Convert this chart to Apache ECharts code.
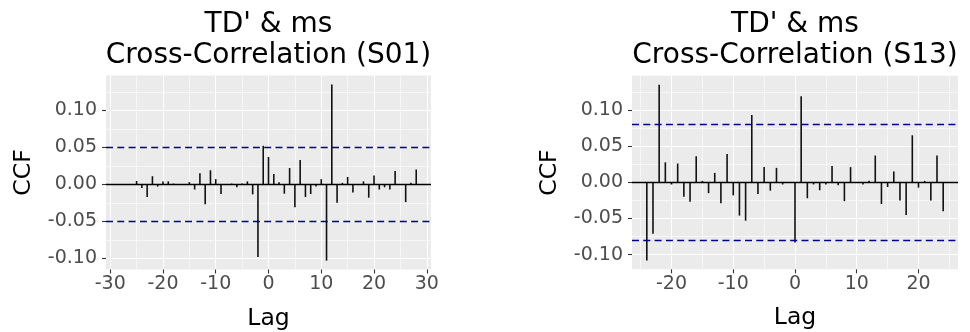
<!DOCTYPE html>
<html>
<head>
<meta charset="utf-8">
<script src="https://cdn.jsdelivr.net/npm/echarts@6.0.0/dist/echarts.min.js"></script>
<style>
  html, body { margin: 0; padding: 0; background: #fff; }
  #chart { width: 970px; height: 332px; }
</style>
</head>
<body>
<div id="chart"></div>
<script>
// CCF values, one per lag
var lagsS01 = [-28, -27, -26, -25, -24, -23, -22, -21, -20, -19, -18, -17, -16, -15, -14, -13, -12, -11, -10, -9, -8, -7, -6, -5, -4, -3, -2, -1,
    0, 1, 2, 3, 4, 5, 6, 7, 8, 9, 10, 11, 12, 13, 14, 15, 16, 17, 18, 19, 20, 21, 22, 23, 24, 25, 26, 27, 28];
var ccfS01 = [0, 0, 0, 0.0045, -0.005, -0.017, 0.011, -0.003, 0.004, 0.004, 0.001, 0, -0.001, 0.003, -0.007, 0.015, -0.027, 0.019, 0.007, -0.013,
    0, 0.001, -0.004, 0.001, 0.004, -0.0135, -0.098, 0.052,
    0.037, 0.014, 0.003, -0.0126, 0.022, -0.031, 0.033, -0.017, -0.013, -0.003, 0.007, -0.103, 0.135, -0.025, 0.002, 0.010,
    -0.011, 0, 0.004, -0.018, 0.012, -0.007, -0.004, -0.007, 0.018, 0, -0.024, 0.002, 0.020];
var ciS01 = 0.0504;

var lagsS13 = [-24, -23, -22, -21, -20, -19, -18, -17, -16, -15, -14, -13, -12, -11, -10, -9, -8, -7, -6, -5, -4, -3, -2, -1,
    0, 1, 2, 3, 4, 5, 6, 7, 8, 9, 10, 11, 12, 13, 14, 15, 16, 17, 18, 19, 20, 21, 22, 23, 24];
var ccfS13 = [-0.108, -0.071, 0.135, 0.0276, -0.003, 0.026, -0.020, -0.027, 0.036, 0.002, -0.015, 0.013, -0.029, 0.039, -0.018, -0.046,
    -0.053, 0.093, -0.016, 0.021, -0.0115, 0.020, -0.003, 0,
    -0.083, 0.119, -0.022, -0.003, -0.011, -0.003, 0.0226, -0.004, -0.026, 0.021, 0, -0.003, 0.002, 0.037, -0.030, -0.0065,
    0.015, -0.025, -0.045, 0.065, -0.0074, 0.002, -0.025, 0.037, -0.040];
var ciS13 = 0.0843;

// tick labels and grid breaks
var xTicksS01 = [-30, -20, -10, 0, 10, 20, 30];
var xMinorS01 = [-25, -15, -5, 5, 15, 25];
var xTicksS13 = [-20, -10, 0, 10, 20];
var xMinorS13 = [-25, -15, -5, 5, 15, 25];
var yTicks = [-0.10, -0.05, 0, 0.05, 0.10];
var yMinor = [-0.075, -0.025, 0.025, 0.075, 0.125];

var FONT = 'DejaVu Sans';
var grids = [], xAxes = [], yAxes = [], series = [], titles = [];

function zip(a, b) {
    var out = [];
    for (var i = 0; i < a.length; i++) out.push([a[i], b[i]]);
    return out;
}

function panel(i, box, title, lags, ccf, ci, xTicks, xMinor, xRange, yRange) {
    // fixed pixel box, don't let echarts squeeze it to fit the axis names
    grids.push({left: box[0], top: box[1], width: box[2], height: box[3], show: true,
        outerBoundsMode: 'none', containLabel: false,
        backgroundColor: '#EBEBEB', borderWidth: 0});
    titles.push({
        text: title, left: box[0] + box[2] / 2, top: 9, textAlign: 'center', padding: 0,
        textStyle: {fontFamily: FONT, fontSize: 28, fontWeight: 'normal', color: '#000', lineHeight: 31}
    });
    // major axis with labels
    xAxes.push({
        gridIndex: i, type: 'value', position: 'bottom', min: xRange[0], max: xRange[1],
        name: 'Lag', nameLocation: 'middle', nameGap: 37,
        nameTextStyle: {fontFamily: FONT, fontSize: 23.5, color: '#000'},
        axisLine: {show: false, onZero: false},
        axisTick: {show: true, length: 4, lineStyle: {color: '#333', width: 1.1}, customValues: xTicks},
        axisLabel: {customValues: xTicks, margin: 5, fontFamily: FONT, fontSize: 19, color: '#4D4D4D'},
        splitLine: {show: true, lineStyle: {color: '#fff', width: 1.1}}
    });
    // minor grid only
    xAxes.push({
        gridIndex: i, type: 'value', position: 'bottom', min: xRange[0], max: xRange[1],
        axisLine: {show: false, onZero: false}, axisLabel: {show: false},
        axisTick: {show: false, customValues: xMinor},
        splitLine: {show: true, lineStyle: {color: '#fff', width: 0.55}}
    });
    yAxes.push({
        gridIndex: i, type: 'value', position: 'left', min: yRange[0], max: yRange[1],
        name: 'CCF', nameLocation: 'middle', nameGap: 70, nameRotate: 90,
        nameTextStyle: {fontFamily: FONT, fontSize: 23.5, color: '#000'},
        axisLine: {show: false, onZero: false},
        axisTick: {show: true, length: 4, lineStyle: {color: '#333', width: 1.1}, customValues: yTicks},
        axisLabel: {customValues: yTicks, margin: 9, fontFamily: FONT, fontSize: 19, color: '#4D4D4D',
            formatter: function (v) { return v.toFixed(2); }},
        splitLine: {show: true, lineStyle: {color: '#fff', width: 1.1}}
    });
    yAxes.push({
        gridIndex: i, type: 'value', position: 'left', min: yRange[0], max: yRange[1],
        axisLine: {show: false, onZero: false}, axisLabel: {show: false},
        axisTick: {show: false, customValues: yMinor},
        splitLine: {show: true, lineStyle: {color: '#fff', width: 0.55}}
    });
    series.push({
        type: 'bar', xAxisIndex: 2 * i, yAxisIndex: 2 * i,
        data: zip(lags, ccf), barWidth: 1.6,
        itemStyle: {color: '#111'},
        silent: true,
        markLine: {
            silent: true, symbol: 'none', label: {show: false},
            data: [
                {yAxis: 0, lineStyle: {color: '#000', width: 1.3, type: 'solid'}},
                {yAxis: ci, lineStyle: {color: '#00008B', width: 1.3, type: [7, 4.3]}},
                {yAxis: -ci, lineStyle: {color: '#00008B', width: 1.3, type: [7, 4.3]}}
            ]
        }
    });
}

panel(0, [106, 75.5, 325, 194], "TD' & ms\nCross-Correlation (S01)", lagsS01, ccfS01, ciS01,
    xTicksS01, xMinorS01, [-30.8, 30.8], [-0.115, 0.147]);
panel(1, [632, 75.8, 326, 193.5], "TD' & ms\nCross-Correlation (S13)", lagsS13, ccfS13, ciS13,
    xTicksS13, xMinorS13, [-26.4, 26.4], [-0.1202, 0.1472]);

var myChart = echarts.init(document.getElementById('chart'), null, {renderer: 'canvas'});
myChart.setOption({
    animation: false,
    title: titles,
    grid: grids,
    xAxis: xAxes,
    yAxis: yAxes,
    series: series
});
</script>
</body>
</html>
